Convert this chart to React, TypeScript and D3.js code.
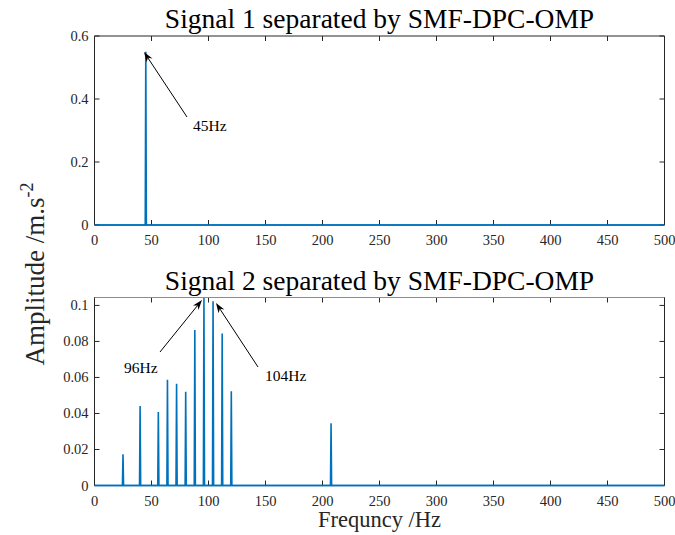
import React from 'react';
import * as d3 from 'd3';

const xTicks = [0, 50, 100, 150, 200, 250, 300, 350, 400, 450, 500];
const y1Ticks = [0, 0.2, 0.4, 0.6];
const y2Ticks = [0, 0.02, 0.04, 0.06, 0.08, 0.1];
const sig1Freq = [45];
const sig1Amp = [0.55];
const sig2Freq = [25, 40, 56, 64, 72, 80, 88, 96, 104, 112, 120, 207.5];
const sig2Amp = [0.0174, 0.0441, 0.0408, 0.0587, 0.0565, 0.0521, 0.0863, 0.1044, 0.1023, 0.0844, 0.0524, 0.0346];
const title1 = 'Signal 1 separated by SMF-DPC-OMP';
const title2 = 'Signal 2 separated by SMF-DPC-OMP';

const FONT = '"Liberation Serif", "Times New Roman", serif';
const BLUE = '#0072BD';
const L = 94.5, R = 664.5;

const x = d3.scaleLinear().domain([0, 500]).range([L, R]);

function spectrum(freqs: number[], amps: number[]) {
  const pts: [number, number][] = [[0, 0]];
  const idx = d3.range(freqs.length).sort((a, b) => freqs[a] - freqs[b]);
  idx.forEach(i => {
    pts.push([freqs[i] - 0.5, 0]);
    pts.push([freqs[i], amps[i]]);
    pts.push([freqs[i] + 0.5, 0]);
  });
  pts.push([500, 0]);
  return pts;
}

function Arrow({ x1, y1, x2, y2 }: { x1: number; y1: number; x2: number; y2: number }) {
  const ang = Math.atan2(y2 - y1, x2 - x1);
  const len = 10, w = 3.5;
  const bx = x2 - len * Math.cos(ang), by = y2 - len * Math.sin(ang);
  const mx = x2 - len * 0.7 * Math.cos(ang), my = y2 - len * 0.7 * Math.sin(ang);
  const px = -Math.sin(ang) * w, py = Math.cos(ang) * w;
  return (
    <g>
      <line x1={x1} y1={y1} x2={mx} y2={my} stroke="#000" strokeWidth={1} />
      <path d={`M${x2},${y2}L${bx + px},${by + py}L${mx},${my}L${bx - px},${by - py}Z`} fill="#000" />
    </g>
  );
}

function Panel({ y, ticks, freqs, amps, title, fmt, topColor }: any) {
  const line = d3.line<[number, number]>().x(d => x(d[0])).y(d => y(d[1]));
  const [B, T] = y.range();
  return (
    <g>
      <rect x={L} y={T} width={R - L} height={B - T} fill="#fff" />
      <path d={line(spectrum(freqs, amps)) || ''} fill="none" stroke={BLUE} strokeWidth={1.6} />
      {xTicks.map(t => (
        <g key={'x' + t}>
          <line x1={x(t)} x2={x(t)} y1={B} y2={B - 5} stroke="#262626" strokeWidth={1} />
          <line x1={x(t)} x2={x(t)} y1={T} y2={T + 5} stroke="#262626" strokeWidth={1} />
          <text x={x(t)} y={B + 20} textAnchor="middle" fontSize={14.5} fontFamily={FONT} fill="#262626">{t}</text>
        </g>
      ))}
      {ticks.map((t: number) => (
        <g key={'y' + t}>
          <line x1={L} x2={L + 5} y1={y(t)} y2={y(t)} stroke="#262626" strokeWidth={1} />
          <line x1={R} x2={R - 5} y1={y(t)} y2={y(t)} stroke="#262626" strokeWidth={1} />
          <text x={L - 6} y={y(t) + 5} textAnchor="end" fontSize={14.5} fontFamily={FONT} fill="#262626">{fmt(t)}</text>
        </g>
      ))}
      <line x1={L} x2={R} y1={T} y2={T} stroke={topColor} strokeWidth={1} />
      <line x1={L} x2={L} y1={T} y2={B} stroke="#262626" strokeWidth={1} />
      <line x1={R} x2={R} y1={T} y2={B} stroke="#262626" strokeWidth={1} />
      <path d={line(spectrum([], [])) || ''} fill="none" stroke={BLUE} strokeWidth={1.6} />
      <text x={(L + R) / 2} y={T - 8} textAnchor="middle" fontSize={27.5} fontFamily={FONT} fill="#000">{title}</text>
    </g>
  );
}

export default function App() {
  const y1 = d3.scaleLinear().domain([0, 0.6]).range([225, 36]);
  const y2 = d3.scaleLinear().domain([0, 0.1044]).range([485.5, 297.5]);
  const f1 = (t: number) => (t === 0 ? '0' : d3.format('.1f')(t));
  const f2 = (t: number) => (t === 0 ? '0' : t === 0.1 ? '0.1' : d3.format('.2f')(t));
  return (
    <svg width={675} height={535} style={{ position: 'absolute', left: 0, top: 0, background: '#fff' }}>
      <rect width={675} height={535} fill="#fff" />
      <Panel y={y1} ticks={y1Ticks} freqs={sig1Freq} amps={sig1Amp} title={title1} fmt={f1} topColor="#262626" />
      <Panel y={y2} ticks={y2Ticks} freqs={sig2Freq} amps={sig2Amp} title={title2} fmt={f2} topColor="#8c8c8c" />
      <Arrow x1={187} y1={117} x2={144} y2={52} />
      <text x={193} y={131} fontSize={15.5} fontFamily={FONT}>45Hz</text>
      <Arrow x1={160} y1={352} x2={202} y2={300} />
      <text x={124} y={373} fontSize={15.5} fontFamily={FONT}>96Hz</text>
      <Arrow x1={258} y1={367} x2={216} y2={303} />
      <text x={265} y={381} fontSize={15.5} fontFamily={FONT}>104Hz</text>
      <text x={(L + R) / 2} y={527} textAnchor="middle" fontSize={22.5} fontFamily={FONT} fill="#262626">Frequncy /Hz</text>
      <text transform="translate(44,274) rotate(-90)" textAnchor="middle" fontSize={27} fontFamily={FONT} fill="#262626">
        Amplitude /m.s<tspan dy={-11} fontSize={18}>-2</tspan>
      </text>
    </svg>
  );
}
